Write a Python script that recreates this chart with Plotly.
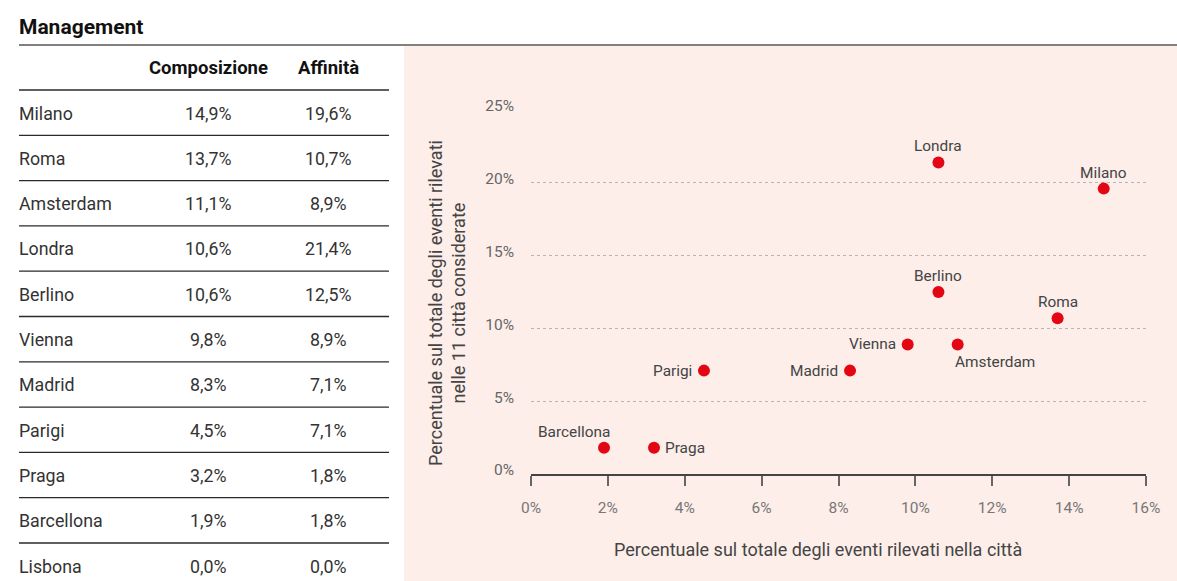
import plotly.graph_objects as go

# ---- data ----
cities = ["Milano", "Roma", "Amsterdam", "Londra", "Berlino", "Vienna",
          "Madrid", "Parigi", "Praga", "Barcellona", "Lisbona"]
composizione = [14.9, 13.7, 11.1, 10.6, 10.6, 9.8, 8.3, 4.5, 3.2, 1.9, 0.0]
affinita = [19.6, 10.7, 8.9, 21.4, 12.5, 8.9, 7.1, 7.1, 1.8, 1.8, 0.0]
title_text = "Management"
col_headers = ["Composizione", "Affinità"]
x_title = "Percentuale sul totale degli eventi rilevati nella città"
y_title = "Percentuale sul totale degli eventi rilevati<br>nelle 11 città considerate"
x_ticks = [0, 2, 4, 6, 8, 10, 12, 14, 16]
y_ticks = [0, 5, 10, 15, 20, 25]

# label placement per city (style)
label_pos = {
    "Milano": "top", "Roma": "top", "Amsterdam": "bottomright", "Londra": "top",
    "Berlino": "top", "Vienna": "left", "Madrid": "left", "Parigi": "left",
    "Praga": "right", "Barcellona": "topleft",
}

W, H = 1177, 581
FONT = "Roboto"
RED = "#e30613"
TXT = "#333333"


def px(x):
    return x / W


def py(y):
    return 1 - y / H


def fmt(v):
    return f"{v:.1f}".replace(".", ",") + "%"


fig = go.Figure()

# scatter points (skip zero entries)
pts = [(c, a, b) for c, a, b in zip(cities, composizione, affinita) if a > 0 or b > 0]
fig.add_trace(go.Scatter(
    x=[p[1] for p in pts], y=[p[2] for p in pts], mode="markers",
    marker=dict(color=RED, size=12, line=dict(width=0)),
    hoverinfo="text", text=[p[0] for p in pts], showlegend=False,
))

annotations = []
shapes = []

# pink panel
shapes.append(dict(type="rect", xref="paper", yref="paper", x0=px(404), x1=1,
                   y0=0, y1=py(46), fillcolor="#fdeeea", line=dict(width=0), layer="below"))
# header rule
shapes.append(dict(type="line", xref="paper", yref="paper", x0=px(19), x1=1,
                   y0=py(45), y1=py(45), line=dict(color="#808080", width=2)))

annotations.append(dict(text=f"<b>{title_text}</b>", xref="paper", yref="paper",
                        x=px(17), y=py(27), xanchor="left", yanchor="middle",
                        showarrow=False, font=dict(family=FONT, size=21, color="#111")))

# table
col_x = [208, 328]
for hx, h in zip(col_x, col_headers):
    annotations.append(dict(text=f"<b>{h}</b>", xref="paper", yref="paper",
                            x=px(hx), y=py(68), xanchor="center", yanchor="middle",
                            showarrow=False, font=dict(family=FONT, size=18.5, color="#111")))

row_h = 45.3
line0 = 90
for i, (c, a, b) in enumerate(zip(cities, composizione, affinita)):
    ly = line0 + i * row_h
    shapes.append(dict(type="line", xref="paper", yref="paper", x0=px(19), x1=px(389),
                       y0=py(ly), y1=py(ly), line=dict(color="#2a2a2a", width=1.3)))
    ty = ly + 23
    annotations.append(dict(text=c, xref="paper", yref="paper", x=px(17), y=py(ty),
                            xanchor="left", yanchor="middle", showarrow=False,
                            font=dict(family=FONT, size=17.8, color=TXT)))
    for cx, v in zip(col_x, (a, b)):
        annotations.append(dict(text=fmt(v), xref="paper", yref="paper", x=px(cx), y=py(ty),
                                xanchor="center", yanchor="middle", showarrow=False,
                                font=dict(family=FONT, size=17.8, color=TXT)))

# scatter labels
anchor_map = {
    "top": dict(xanchor="center", yanchor="bottom", xshift=0, yshift=6),
    "left": dict(xanchor="right", yanchor="middle", xshift=-11, yshift=0),
    "right": dict(xanchor="left", yanchor="middle", xshift=10, yshift=0),
    "topleft": dict(xanchor="right", yanchor="bottom", xshift=7, yshift=6),
    "bottomright": dict(xanchor="left", yanchor="top", xshift=-4, yshift=-8),
}
for c, a, b in pts:
    an = anchor_map[label_pos[c]]
    annotations.append(dict(text=c, x=a, y=b, xref="x", yref="y", showarrow=False,
                            borderpad=0, font=dict(family=FONT, size=15.4, color="#444"), **an))

# y axis title (rotated, two lines)
annotations.append(dict(text=y_title, xref="paper", yref="paper", x=px(447), y=py(303),
                        xanchor="center", yanchor="middle", textangle=-90, showarrow=False,
                        font=dict(family=FONT, size=18, color="#444")))
# x axis title
annotations.append(dict(text=x_title, xref="paper", yref="paper", x=px(818), y=py(549),
                        xanchor="center", yanchor="middle", showarrow=False,
                        font=dict(family=FONT, size=18, color="#444")))

x0, x1 = 531, 1146
y_bot, y_top = 474, 110
fig.update_layout(
    width=W, height=H, margin=dict(l=0, r=0, t=0, b=0, pad=0, autoexpand=False),
    paper_bgcolor="white", plot_bgcolor="rgba(0,0,0,0)",
    font=dict(family=FONT, color=TXT),
    shapes=shapes, annotations=annotations,
    xaxis=dict(domain=[px(x0), px(x1)], range=[0, 16], tickvals=x_ticks,
               ticktext=[f"{t}%" for t in x_ticks], showgrid=False, zeroline=False,
               showline=True, linecolor="#444", linewidth=1.5, automargin=False,
               ticks="outside", ticklen=10, tickwidth=1.5, tickcolor="#666",
               ticklabelstandoff=9,
               tickfont=dict(family=FONT, size=15.5, color="#777")),
    yaxis=dict(domain=[py(y_bot), py(y_top)], range=[0, 25], tickvals=y_ticks,
               ticktext=[f"{t}%" for t in y_ticks], showgrid=True, gridcolor="#b5b5b5",
               griddash="dot", gridwidth=1, zeroline=False, showline=False, ticks="",
               automargin=False, ticklabelstandoff=16, ticklabelshift=-4,
               tickfont=dict(family=FONT, size=15.5, color="#666")),
)

fig.write_html(
    "out.html",
    config={"displayModeBar": False},
    post_script=(
        "document.documentElement.style.margin='0';"
        "document.body.style.margin='0';document.body.style.overflow='hidden';"
    ),
)
